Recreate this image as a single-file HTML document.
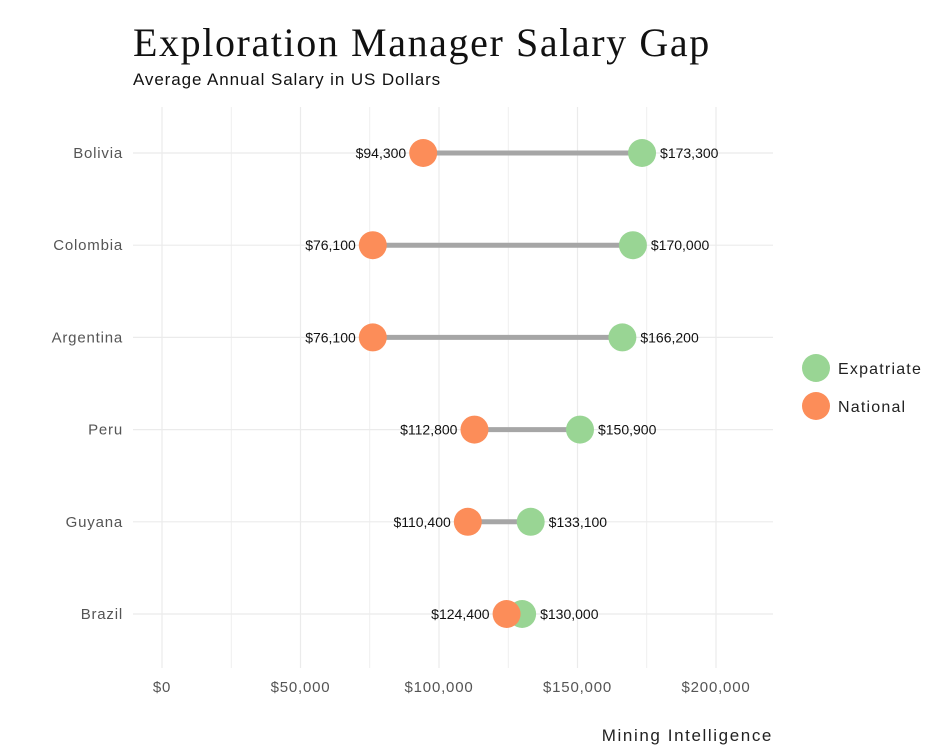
<!DOCTYPE html>
<html><head><meta charset="utf-8"><style>
body{margin:0;background:#fff;}
svg{display:block;font-family:"Liberation Sans",sans-serif;}
</style></head><body>
<svg id="chart" width="944" height="755">
<text x="133" y="56" font-family="Liberation Serif, serif" font-size="40" letter-spacing="1.6" fill="#111">Exploration Manager Salary Gap</text>
<text x="133" y="85" font-size="17" letter-spacing="0.9" fill="#111">Average Annual Salary in US Dollars</text>
<g id="grid"></g>
<g id="yaxis"></g>
<g id="xaxis"></g>
<g id="marks"></g>
<g>
<circle cx="816" cy="368" r="14" fill="#99d594"/>
<text x="838" y="374" font-size="16" letter-spacing="1.2" fill="#222">Expatriate</text>
<circle cx="816" cy="406" r="14" fill="#fc8d59"/>
<text x="838" y="412" font-size="16" letter-spacing="1.2" fill="#222">National</text>
</g>
<text x="773" y="741" text-anchor="end" font-size="17" letter-spacing="1.6" fill="#222">Mining Intelligence</text>
</svg>
<script>
const countries=["Bolivia","Colombia","Argentina","Peru","Guyana","Brazil"];
const national=[94300,76100,76100,112800,110400,124400];
const expatriate=[173300,170000,166200,150900,133100,130000];
const xTicks=[0,50000,100000,150000,200000];
const xTickLabels=["$0","$50,000","$100,000","$150,000","$200,000"];
const NS="http://www.w3.org/2000/svg";
const xs=v=>162+v*554/200000;
const ys=i=>153+i*92.2;
const pTop=107,pBot=668,pLeft=133,pRight=773;
function mk(tag,attrs,parent,txt){const e=document.createElementNS(NS,tag);for(const k in attrs)e.setAttribute(k,attrs[k]);if(txt!==undefined)e.textContent=txt;parent.appendChild(e);return e;}
const fmt=v=>"$"+v.toLocaleString("en-US");
const grid=document.getElementById("grid"),xa=document.getElementById("xaxis"),ya=document.getElementById("yaxis"),marks=document.getElementById("marks");
for(let t=0;t<=200000;t+=25000){const l=mk("line",{x1:xs(t),x2:xs(t),y1:pTop,y2:pBot,stroke:"#ebebeb","stroke-width":t%50000?0.8:1.2},grid);

}
countries.forEach((c,i)=>{const l=mk("line",{x1:pLeft,x2:pRight,y1:ys(i),y2:ys(i),stroke:"#ebebeb","stroke-width":1.2},grid);


const t=mk("text",{x:123,y:ys(i)+5,"text-anchor":"end","font-size":15,"letter-spacing":0.8,fill:"#555"},ya,c);

});
xTicks.forEach((v,i)=>{const t=mk("text",{x:xs(v),y:692,"text-anchor":"middle","font-size":15,"letter-spacing":0.8,fill:"#555"},xa,xTickLabels[i]);

});
countries.forEach((c,i)=>{const yy=ys(i);
const l=mk("line",{x1:xs(national[i]),x2:xs(expatriate[i]),y1:yy,y2:yy,stroke:"#a6a6a6","stroke-width":5},marks);


const e=mk("circle",{cx:xs(expatriate[i]),cy:yy,r:14,fill:"#99d594"},marks);


const n=mk("circle",{cx:xs(national[i]),cy:yy,r:14,fill:"#fc8d59"},marks);


const tn=mk("text",{x:xs(national[i])-17,y:yy+5,"text-anchor":"end","font-size":14,fill:"#111"},marks,fmt(national[i]));


const te=mk("text",{x:xs(expatriate[i])+18,y:yy+5,"font-size":14,fill:"#111"},marks,fmt(expatriate[i]));

});
</script>
</body></html>
